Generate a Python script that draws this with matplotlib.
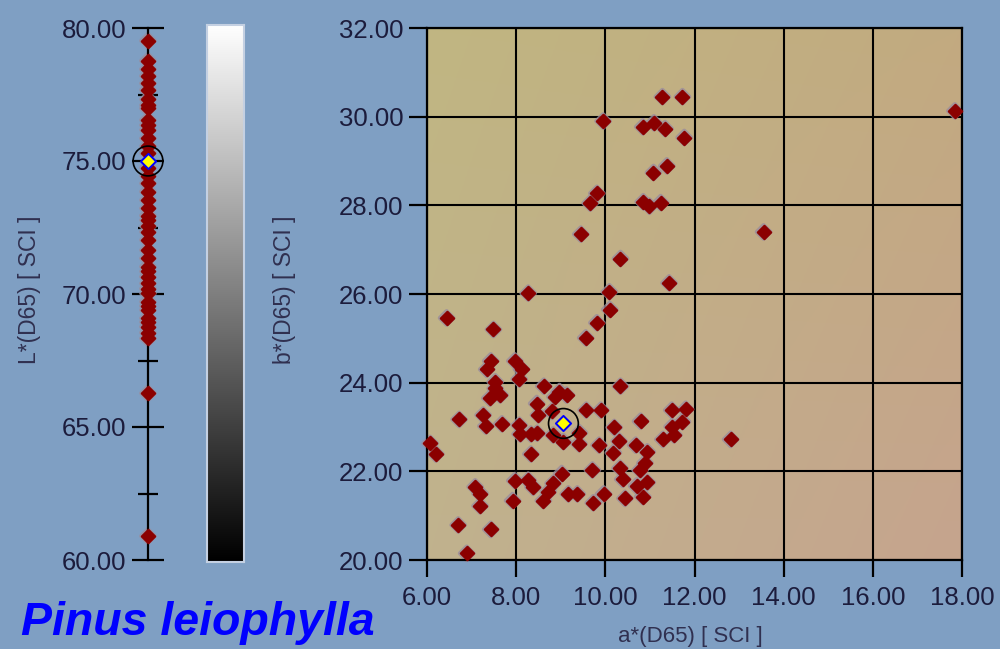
import numpy as np
import matplotlib
matplotlib.use('Agg')
import matplotlib.pyplot as plt
from matplotlib.markers import MarkerStyle
from matplotlib.ticker import MultipleLocator, FormatStrFormatter

plt.rcParams['font.family'] = ['Liberation Sans', 'DejaVu Sans']

# L* values (strip on the left)
L_vals = [79.52, 78.77, 78.45, 78.20, 77.92, 77.67, 77.32, 77.10, 76.98, 76.54,
          76.35, 76.17, 75.85, 75.56, 75.30, 74.75, 74.45, 74.16, 73.85, 73.53,
          73.22, 72.95, 72.78, 72.55, 72.34, 72.03, 71.65, 71.34, 71.03, 70.85,
          70.65, 70.40, 70.20, 70.03, 69.71, 69.55, 69.40, 69.09, 68.95, 68.77,
          68.55, 68.33, 66.27, 60.90]
L_sel = 75.0

# a*, b* scatter values
a_vals = [11.28, 11.73, 9.95, 10.84, 11.09, 11.34, 11.77, 11.38, 11.08, 9.81,
          9.66, 10.99, 11.24, 10.85, 9.45, 10.34, 11.43, 8.27, 10.09, 17.84,
          13.55, 10.10, 9.81, 9.56, 6.44, 7.49, 7.43, 7.34, 7.97, 8.12,
          8.07, 7.53, 7.53, 7.64, 7.41, 8.62, 8.97, 9.13, 8.87, 8.46,
          8.50, 8.80, 9.57, 9.90, 10.34, 6.72, 7.26, 7.32, 7.68, 8.07,
          8.09, 8.33, 8.47, 8.83, 9.06, 9.42, 9.41, 9.86, 10.20, 10.31,
          10.18, 10.79, 11.49, 11.80, 11.73, 11.50, 11.29, 11.54, 10.68, 10.94,
          10.89, 10.78, 12.81, 6.07, 6.20, 8.33, 9.71, 10.33, 10.39, 9.02,
          8.83, 8.72, 8.61, 7.97, 8.27, 8.38, 7.92, 7.08, 7.19, 7.19,
          9.17, 9.37, 9.96, 9.73, 10.44, 10.84, 10.94, 10.70, 6.70, 7.43,
          6.89]
b_vals = [30.45, 30.45, 29.90, 29.77, 29.86, 29.73, 29.53, 28.89, 28.74, 28.27,
          28.05, 27.98, 28.06, 28.08, 27.35, 26.80, 26.25, 26.02, 26.05, 30.13,
          27.40, 25.65, 25.35, 25.01, 25.46, 25.20, 24.49, 24.30, 24.49, 24.30,
          24.08, 24.02, 23.87, 23.72, 23.65, 23.92, 23.80, 23.72, 23.68, 23.53,
          23.27, 23.35, 23.38, 23.38, 23.92, 23.17, 23.27, 23.02, 23.07, 23.04,
          22.84, 22.84, 22.86, 22.82, 22.67, 22.87, 22.62, 22.59, 22.99, 22.68,
          22.42, 23.13, 23.38, 23.40, 23.12, 23.01, 22.72, 22.82, 22.59, 22.44,
          22.19, 22.03, 22.72, 22.63, 22.39, 22.39, 22.03, 22.07, 21.82, 21.95,
          21.73, 21.54, 21.34, 21.79, 21.80, 21.64, 21.34, 21.65, 21.50, 21.22,
          21.49, 21.49, 21.49, 21.29, 21.39, 21.43, 21.75, 21.67, 20.79, 20.69,
          20.15]
a_sel, b_sel = 9.06, 23.08

title = 'Pinus leiophylla'

bg = '#7f9fc3'
txt = '#1c1c3c'
lbl = '#303050'
diamond = MarkerStyle('D', joinstyle='round')
mk = dict(marker=diamond, s=46, c='#8b0000', edgecolors='#8b0000', linewidths=1.6)
halo = dict(marker=diamond, s=46, c='none', edgecolors='#9a8c9c', linewidths=3.2,
            alpha=0.8)

fig = plt.figure(figsize=(10, 6.49), dpi=100, facecolor=bg)
H = 649.0

# ---- L* strip ----
axL = fig.add_axes([0.118, 1 - 560 / H, 0.06, 532 / H])
axL.set_facecolor('none')
axL.set_xlim(-1, 1)
axL.set_ylim(60, 80)
for s in ['top', 'right', 'bottom']:
    axL.spines[s].set_visible(False)
axL.spines['left'].set_position(('data', 0))
axL.spines['left'].set_linewidth(1.6)
axL.yaxis.set_major_locator(MultipleLocator(5))
axL.yaxis.set_minor_locator(MultipleLocator(2.5))
axL.yaxis.set_major_formatter(FormatStrFormatter('%.2f'))
axL.tick_params(axis='y', which='major', direction='inout', length=23, width=1.6,
                pad=4, labelsize=18.5, labelcolor=txt)
axL.tick_params(axis='y', which='minor', direction='inout', length=14, width=1.6)
axL.set_xticks([])
axL.scatter(np.zeros(len(L_vals)), L_vals, zorder=2.5, clip_on=False, **halo)
axL.scatter(np.zeros(len(L_vals)), L_vals, zorder=3, clip_on=False, **mk)
axL.scatter([0], [L_sel], marker='o', s=460, facecolors='none', edgecolors='black',
            linewidths=1.2, zorder=4, clip_on=False)
axL.scatter([0], [L_sel], marker=diamond, s=60, c='yellow', edgecolors='blue',
            linewidths=1.4, zorder=5, clip_on=False)
fig.text(0.030, 1 - 290 / H, 'L*(D65) [ SCI ]', rotation=90, ha='center', va='center',
         fontsize=16.5, color=lbl)

# ---- grey scale bar ----
axC = fig.add_axes([0.207, 1 - 562 / H, 0.037, 537 / H])
grad = np.linspace(1, 0, 256).reshape(-1, 1)
axC.imshow(grad, cmap='gray', aspect='auto', vmin=0, vmax=1)
axC.set_xticks([])
axC.set_yticks([])
for s in axC.spines.values():
    s.set_color('#c4d0e2')
    s.set_linewidth(1.5)
fig.text(0.285, 1 - 290 / H, 'b*(D65) [ SCI ]', rotation=90, ha='center', va='center',
         fontsize=16.5, color=lbl)

# ---- a*/b* scatter ----
ax = fig.add_axes([0.427, 1 - 560 / H, 0.535, 532 / H])
ax.set_xlim(6, 18)
ax.set_ylim(20, 32)
c_tl = np.array([192, 182, 130]) / 255
c_tr = np.array([194, 170, 128]) / 255
c_bl = np.array([192, 178, 142]) / 255
c_br = np.array([198, 164, 142]) / 255
u = np.linspace(0, 1, 200)[None, :, None]
v = np.linspace(0, 1, 200)[:, None, None]
img = (1 - v) * ((1 - u) * c_tl + u * c_tr) + v * ((1 - u) * c_bl + u * c_br)
ax.imshow(img, extent=[6, 18, 20, 32], aspect='auto', zorder=0)
ax.xaxis.set_major_locator(MultipleLocator(2))
ax.yaxis.set_major_locator(MultipleLocator(2))
ax.xaxis.set_major_formatter(FormatStrFormatter('%.2f'))
ax.yaxis.set_major_formatter(FormatStrFormatter('%.2f'))
ax.grid(True, color='black', linewidth=1.5, zorder=1)
ax.set_axisbelow(True)
for s in ax.spines.values():
    s.set_linewidth(1.6)
ax.tick_params(axis='x', direction='out', length=12, width=1.6, pad=7,
               labelsize=18.5, labelcolor=txt)
ax.tick_params(axis='y', direction='out', length=13, width=1.6, pad=4,
               labelsize=18.5, labelcolor=txt)
ax.scatter(a_vals, b_vals, zorder=2.5, clip_on=False, **halo)
ax.scatter(a_vals, b_vals, zorder=3, clip_on=False, **mk)
ax.scatter([a_sel], [b_sel], marker='o', s=460, facecolors='none', edgecolors='black',
           linewidths=1.2, zorder=4)
ax.scatter([a_sel], [b_sel], marker=diamond, s=60, c='yellow', edgecolors='blue',
           linewidths=1.4, zorder=5)
fig.text(0.69, 1 - 647 / H, 'a*(D65) [ SCI ]', ha='center', va='bottom',
         fontsize=16, color=lbl)

fig.text(0.021, 1 - 635 / H, title, ha='left', va='baseline', fontsize=33.5,
         fontweight='bold', fontstyle='italic', color='#0000ff')

fig.savefig('out.png', dpi=100, facecolor=bg)
